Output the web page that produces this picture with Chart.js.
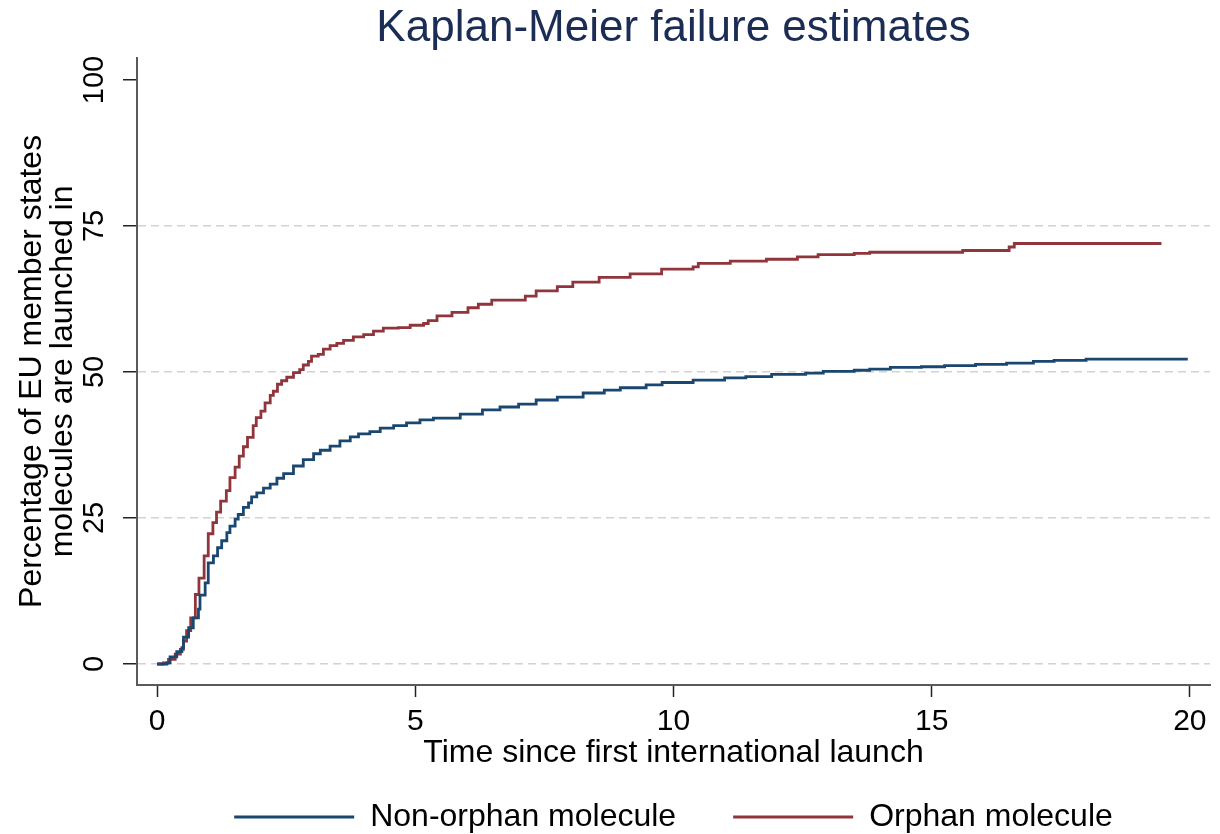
<!DOCTYPE html>
<html>
<head>
<meta charset="utf-8">
<title>Kaplan-Meier failure estimates</title>
<script src="https://cdn.jsdelivr.net/npm/chart.js@4/dist/chart.umd.min.js"></script>
<style>
  html, body { margin: 0; padding: 0; background: #fff; }
  #wrap { width: 1220px; height: 834px; position: relative; }
</style>
</head>
<body>
<div id="wrap"><canvas id="km"></canvas></div>
<script>
// Axis ticks
var X_TICKS = [0, 5, 10, 15, 20];
var Y_TICKS = [0, 25, 50, 75, 100];

var SERIES_LABELS = ['Non-orphan molecule', 'Orphan molecule'];

// Non-orphan molecules: time (years) / cumulative % launched
var nonOrphanTime = [0, 0.19, 0.25, 0.38, 0.48, 0.51, 0.61, 0.70, 0.80, 0.83, 0.93, 0.99, 1.09, 1.17, 1.25,
  1.35, 1.41, 1.51, 1.57, 1.67, 1.77, 1.83, 1.93, 2.06, 2.19, 2.32, 2.45, 2.64, 2.83, 3.03, 3.16, 3.35,
  3.54, 3.74, 3.90, 4.12, 4.32, 4.58, 4.83, 5.09, 5.35, 5.87, 6.30, 6.64, 7.00, 7.34, 7.75, 8.25, 8.66,
  8.97, 9.47, 9.78, 10.38, 10.99, 11.40, 11.90, 12.56, 12.90, 13.50, 13.80, 14.20, 14.80, 15.25, 15.85,
  16.45, 16.97, 17.37, 17.99, 19.96];
var nonOrphanPct = [0, 0.2, 1.2, 2.1, 2.8, 4.6, 6.2, 7.9, 9.4, 11.8, 13.9, 17.3, 18.5, 19.9, 21.1,
  22.5, 23.6, 24.8, 25.6, 26.8, 27.6, 28.6, 29.3, 30.1, 30.8, 31.8, 32.6, 33.9, 35.0, 36.0, 36.6, 37.3,
  38.2, 38.9, 39.4, 39.8, 40.4, 40.8, 41.3, 41.8, 42.1, 42.8, 43.5, 44.0, 44.5, 45.2, 45.7, 46.4, 46.9,
  47.3, 47.8, 48.2, 48.6, 49.0, 49.2, 49.6, 49.8, 50.1, 50.3, 50.5, 50.8, 50.9, 51.1, 51.3,
  51.5, 51.8, 52.0, 52.2, 52.2];

// Orphan molecules
var orphanTime = [0, 0.12, 0.22, 0.35, 0.45, 0.51, 0.57, 0.65, 0.74, 0.81, 0.91, 0.99, 1.08, 1.15, 1.23,
  1.34, 1.41, 1.51, 1.59, 1.67, 1.75, 1.86, 1.92, 2.01, 2.09, 2.19, 2.25, 2.33, 2.41, 2.51, 2.64, 2.76,
  2.83, 2.93, 2.99, 3.12, 3.22, 3.35, 3.48, 3.61, 3.80, 4.00, 4.19, 4.38, 4.67, 4.90, 5.16, 5.25, 5.42,
  5.71, 6.02, 6.22, 6.48, 7.13, 7.34, 7.75, 8.05, 8.56, 9.16, 9.77, 10.38, 10.48, 11.10, 11.80, 12.40,
  12.80, 13.50, 13.80, 15.60, 16.50, 16.60, 19.45];
var orphanPct = [0, 0.2, 0.8, 1.7, 2.5, 3.9, 5.7, 7.9, 11.9, 14.7, 18.5, 22.3, 24.2, 26.0, 27.9,
  29.7, 31.9, 33.7, 35.6, 37.2, 38.8, 40.8, 42.2, 43.3, 44.7, 46.0, 46.7, 47.9, 48.5, 49.1, 49.9, 50.4,
  51.2, 51.8, 52.7, 53.0, 53.9, 54.5, 54.9, 55.4, 56.0, 56.4, 57.0, 57.5, 57.6, 58.0, 58.3, 58.8, 59.6,
  60.2, 61.0, 61.6, 62.3, 63.0, 63.9, 64.6, 65.4, 66.2, 66.8, 67.6, 68.0, 68.6, 69.0, 69.3, 69.7,
  70.1, 70.3, 70.5, 70.8, 71.4, 72.0, 72.0];

var FONT = "'Liberation Sans', Arial, sans-serif";
var NAVY = '#1a476f';
var MAROON = '#90353b';

function toPoints(xs, ys) {
  return xs.map(function (x, i) { return { x: x, y: ys[i] }; });
}

var datasets = [
  { label: SERIES_LABELS[0], data: toPoints(nonOrphanTime, nonOrphanPct), borderColor: NAVY, backgroundColor: NAVY },
  { label: SERIES_LABELS[1], data: toPoints(orphanTime, orphanPct), borderColor: MAROON, backgroundColor: MAROON }
].map(function (d) {
  d.stepped = 'before';
  d.borderWidth = 2.8;
  d.pointRadius = 0;
  d.fill = false;
  return d;
});

new Chart(document.getElementById('km'), {
  type: 'line',
  data: { datasets: datasets },
  options: {
    responsive: true,
    maintainAspectRatio: false,
    animation: false,
    layout: { padding: { left: 0, right: 10, top: 0, bottom: -9 } },
    plugins: {
      title: {
        display: true,
        fullSize: false,
        text: 'Kaplan-Meier failure estimates',
        color: '#1c2d55',
        font: { family: FONT, size: 44, weight: 'normal' },
        padding: { top: 2, bottom: 3 }
      },
      legend: {
        position: 'bottom',
        fullSize: false,
        labels: {
          font: { family: FONT, size: 32 },
          color: '#000',
          boxWidth: 120,
          boxHeight: 3,
          padding: 57,
          generateLabels: function (chart) {
            return Chart.defaults.plugins.legend.labels.generateLabels(chart).map(function (l) {
              l.lineWidth = 0;
              l.fillStyle = l.strokeStyle;
              return l;
            });
          }
        }
      },
      tooltip: { enabled: false }
    },
    scales: {
      x: {
        type: 'linear',
        min: -0.39,
        max: 20.39,
        afterBuildTicks: function (s) { s.ticks = X_TICKS.map(function (v) { return { value: v }; }); },
        afterFit: function (s) { s.height = 59; },
        border: { display: true, color: '#5a5a5a', width: 2 },
        grid: { drawOnChartArea: false, drawTicks: true, tickLength: 12, tickWidth: 1.5, tickColor: '#222' },
        ticks: { font: { family: FONT, size: 30 }, color: '#000', padding: 7, maxRotation: 0 },
        title: {
          display: true,
          text: 'Time since first international launch',
          color: '#000',
          font: { family: FONT, size: 32 },
          padding: { top: 0, bottom: -28 }
        }
      },
      y: {
        type: 'linear',
        min: -3.6,
        max: 103.8,
        afterBuildTicks: function (s) { s.ticks = Y_TICKS.map(function (v) { return { value: v }; }); },
        afterFit: function (s) { s.width = 137; },
        // in v4 the grid-line dash is read from border.dash; the axis line itself stays solid
        border: { display: true, color: '#5a5a5a', width: 2, dash: [8, 5] },
        grid: {
          color: function (ctx) { return ctx.tick && ctx.tick.value === 100 ? 'rgba(0,0,0,0)' : '#d2d2d2'; },
          lineWidth: 1.5,
          drawTicks: true,
          tickLength: 14,
          tickWidth: 1.5,
          tickColor: '#222',
          tickBorderDash: []
        },
        ticks: {
          font: { family: FONT, size: 29 },
          color: '#000',
          minRotation: 90,
          maxRotation: 90,
          crossAlign: 'center',
          padding: 4
        },
        title: {
          display: true,
          text: ['Percentage of EU member states', 'molecules are launched in'],
          color: '#000',
          font: { family: FONT, size: 32, lineHeight: 0.97 },
          padding: { top: 17, bottom: 0 }
        }
      }
    }
  }
});
</script>
</body>
</html>
